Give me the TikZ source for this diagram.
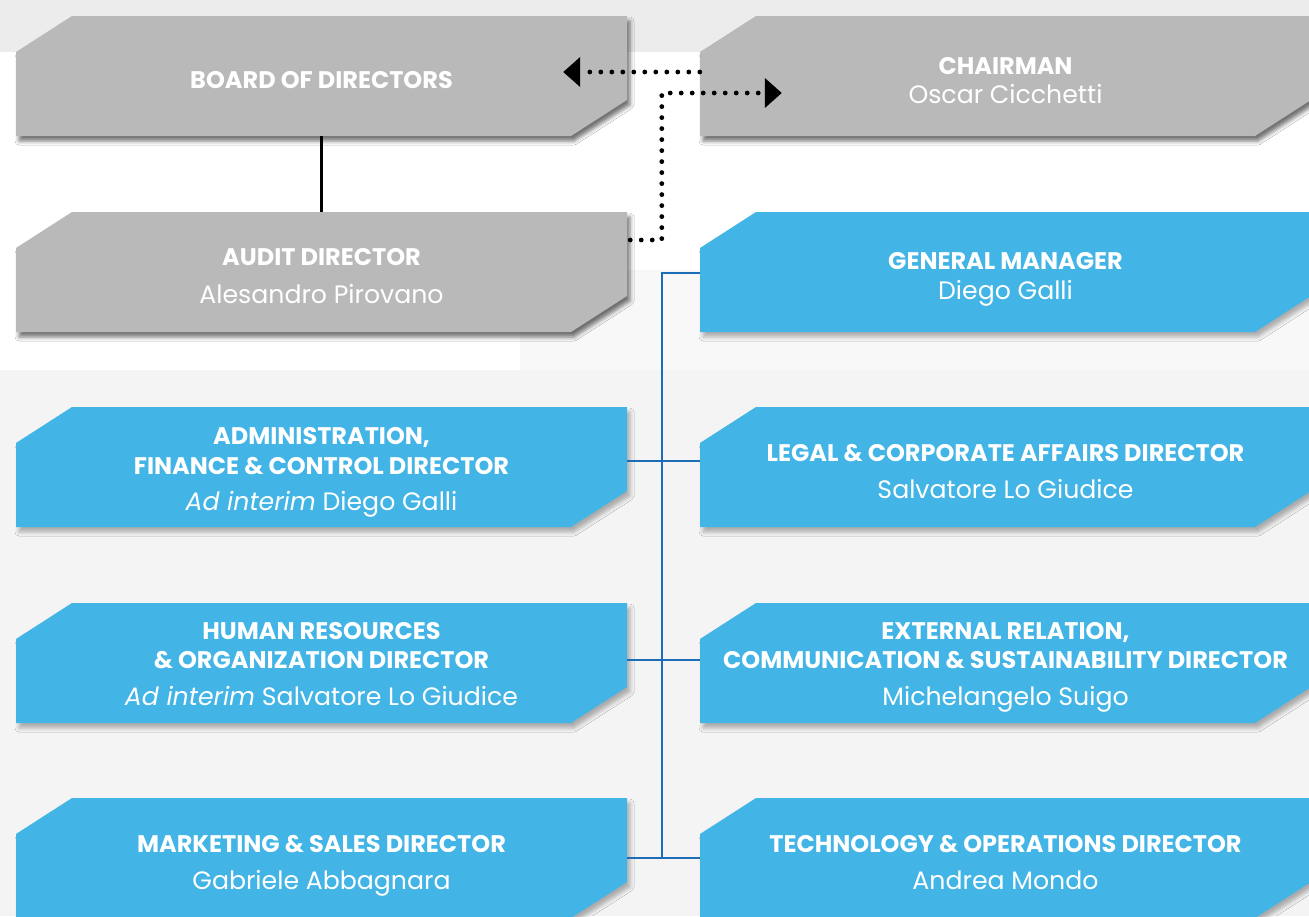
\documentclass[tikz,border=0pt]{standalone}
\usepackage{fontspec}
\setmainfont{Poppins}
\usetikzlibrary{arrows.meta,shadows.blur,fit,calc}
\definecolor{boxgray}{HTML}{BAB9BA}
\definecolor{boxblue}{HTML}{42B4E6}
\definecolor{lineblue}{HTML}{1B6EB5}
\definecolor{bgtop}{HTML}{ECECED}
\definecolor{bglow}{HTML}{F4F4F5}
\tikzset{
  grayshadow/.style={blur shadow={shadow xshift=3pt, shadow yshift=-5pt, shadow blur radius=4pt, shadow opacity=55}},
  blueshadow/.style={blur shadow={shadow xshift=3pt, shadow yshift=-5pt, shadow blur radius=4pt, shadow opacity=30}},
  ttl/.style={text=white, anchor=base, inner sep=0pt, font=\fontsize{24}{28}\selectfont\bfseries},
  nme/.style={text=white, anchor=base, inner sep=0pt, font=\fontsize{25.2}{28}\selectfont},
  blueline/.style={draw=lineblue, line width=2.2pt},
  blackline/.style={draw=black, line width=2.2pt},
  dotline/.style={draw=black, line width=4.8pt, line cap=round, dash pattern=on 0pt off 11pt,
     -{Triangle[length=17pt,width=29pt]}},
}
\newcommand\orgbox[7]{%
  \fill[#6, #7] (#2,#3+36) -- (#2+56,#3) -- (#4,#3) -- (#4,#5-36) -- (#4-56,#5) -- (#2,#5) -- cycle;
  \node[fit={(#2,#3) (#4,#5)}, inner sep=0pt] (#1) {};
}
\begin{document}
\begin{tikzpicture}[x=1pt,y=-1pt]
\useasboundingbox (0,0) rectangle (1309,916);
\clip (0,0) rectangle (1309,916);
% background
\fill[white] (0,0) rectangle (1309,916);
\fill[bgtop] (0,0) rectangle (1309,52);
\fill[bglow] (0,370) rectangle (1309,916);
\fill[bglow!60!white] (520,270) rectangle (1309,370);

% boxes
\orgbox{board}{16}{16}{627}{136}{boxgray}{grayshadow}
\orgbox{chair}{700}{16}{1311}{136}{boxgray}{grayshadow}
\orgbox{audit}{16}{212}{627}{332}{boxgray}{grayshadow}
\orgbox{gm}{700}{212}{1311}{332}{boxblue}{blueshadow}
\orgbox{admin}{16}{407}{627}{527}{boxblue}{blueshadow}
\orgbox{legal}{700}{407}{1311}{527}{boxblue}{blueshadow}
\orgbox{hr}{16}{603}{627}{723}{boxblue}{blueshadow}
\orgbox{ext}{700}{603}{1311}{723}{boxblue}{blueshadow}
\orgbox{mkt}{16}{798}{627}{918}{boxblue}{blueshadow}
\orgbox{tech}{700}{798}{1311}{918}{boxblue}{blueshadow}

% texts
\node[ttl] (t-board) at (321.5,88) {BOARD OF DIRECTORS};
\node[ttl] (t-chair) at (1005.5,74) {CHAIRMAN};
\node[nme] (n-chair) at (1005.5,103) {Oscar Cicchetti};
\node[ttl] (t-audit) at (321.5,265) {AUDIT DIRECTOR};
\node[nme] (n-audit) at (321.5,303) {Alesandro Pirovano};
\node[ttl] (t-gm) at (1005.5,269) {GENERAL MANAGER};
\node[nme] (n-gm) at (1005.5,299) {Diego Galli};
\node[ttl] (t-admin1) at (321.5,444) {ADMINISTRATION,};
\node[ttl] (t-admin2) at (321.5,474) {FINANCE \& CONTROL DIRECTOR};
\node[nme] (n-admin) at (321.5,510) {\textit{Ad interim} Diego Galli};
\node[ttl] (t-legal) at (1005.5,461) {LEGAL \& CORPORATE AFFAIRS DIRECTOR};
\node[nme] (n-legal) at (1005.5,498) {Salvatore Lo Giudice};
\node[ttl] (t-hr1) at (321.5,639) {HUMAN RESOURCES};
\node[ttl] (t-hr2) at (321.5,668) {\& ORGANIZATION DIRECTOR};
\node[nme] (n-hr) at (321.5,705) {\textit{Ad interim} Salvatore Lo Giudice};
\node[ttl] (t-ext1) at (1005.5,639) {EXTERNAL RELATION,};
\node[ttl] (t-ext2) at (1005.5,668) {COMMUNICATION \& SUSTAINABILITY DIRECTOR};
\node[nme] (n-ext) at (1005.5,705) {Michelangelo Suigo};
\node[ttl] (t-mkt) at (321.5,852) {MARKETING \& SALES DIRECTOR};
\node[nme] (n-mkt) at (321.5,889) {Gabriele Abbagnara};
\node[ttl] (t-tech) at (1005.5,852) {TECHNOLOGY \& OPERATIONS DIRECTOR};
\node[nme] (n-tech) at (1005.5,889) {Andrea Mondo};

% connectors
\coordinate (trunk) at (662,273);
\draw[blackline] (board.south) -- (audit.north);
\draw[blueline] ([yshift=-1pt]gm.west) -- ([yshift=-1pt]gm.west -| trunk) -- (mkt.east -| trunk);
\draw[blueline] ([yshift=6pt]admin.east) -- ([yshift=6pt]legal.west);
\draw[blueline] ([yshift=3pt]hr.east) -- ([yshift=3pt]ext.west);
\draw[blueline] (mkt.east) -- (tech.west);
\draw[dotline] ([yshift=4pt]chair.west) -- ([xshift=-64pt,yshift=4pt]board.east);
\draw[dotline] ([yshift=32pt,xshift=3pt]audit.east) -| ([yshift=-17pt,xshift=-38pt]chair.west) -- ([yshift=-17pt,xshift=82pt]chair.west);
\end{tikzpicture}
\end{document}
